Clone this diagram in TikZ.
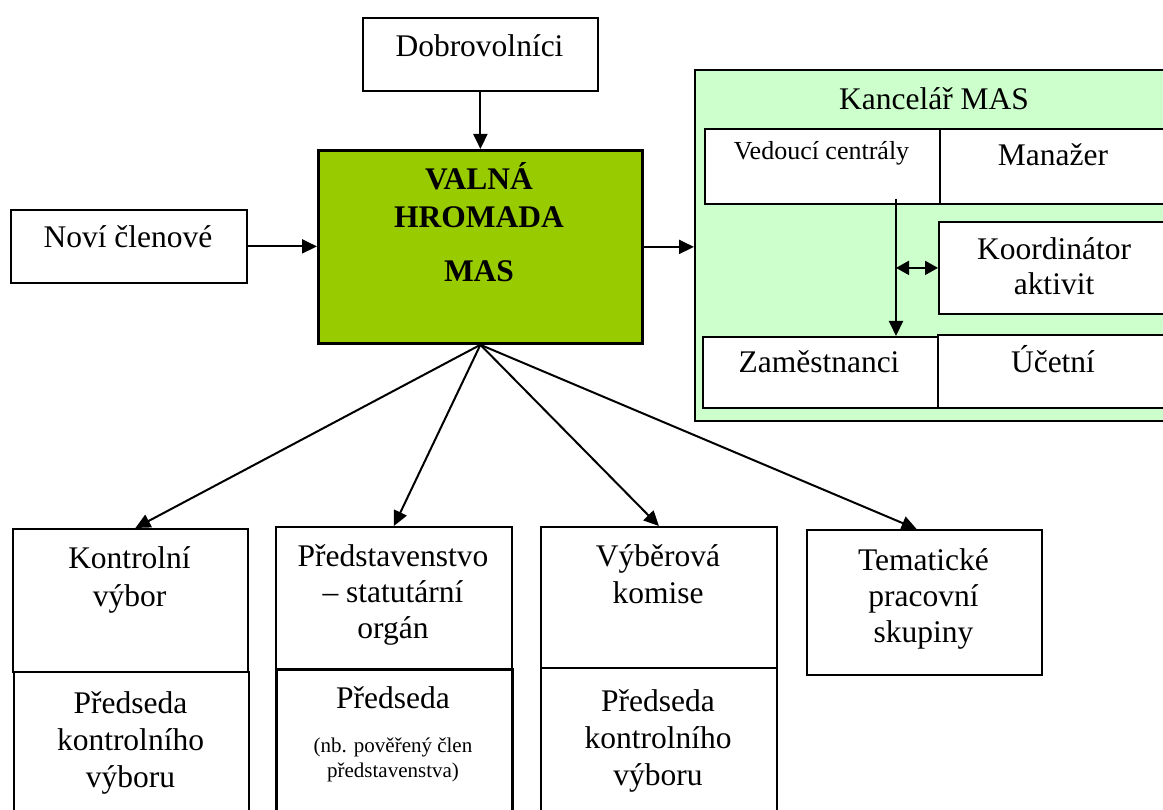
\documentclass[tikz,border=0pt]{standalone}
\usepackage{fontspec}
\setmainfont{Liberation Serif}
\usetikzlibrary{arrows.meta}
\definecolor{valna}{HTML}{99CC00}
\definecolor{kancelar}{HTML}{CCFFCC}

\begin{document}
\begin{tikzpicture}[x=1pt, y=-1pt]
    \tikzstyle{box}=[draw, line width=1.8pt, fill=white, anchor=north west, inner sep=0pt]
    \tikzstyle{txt}=[anchor=base, align=center, inner sep=0pt, font=\fontsize{31.5}{37}\selectfont]
    \tikzstyle{arr}=[line width=2pt, -{Triangle[length=15pt,width=14pt]}]
    \clip (0,0) rectangle (1163,810);
    \fill[white] (0,0) rectangle (1163,810);

    \node[box, minimum width=235pt, minimum height=73pt] (dobr) at (362,17) {};
    \node[txt] (dobrt) at (479.5,57) {Dobrovolníci};
    \node[box, minimum width=236pt, minimum height=73pt] (novi) at (10,209) {};
    \node[txt] (novit) at (128,248) {Noví členové};
    \node[box, fill=valna, line width=2.8pt, minimum width=324pt, minimum height=193pt] (vh) at (317,149) {};
    \node[txt, font=\fontsize{31.5}{38}\selectfont\bfseries] (vht) at (479,282) {VALNÁ\\HROMADA\\[16pt]MAS};

    \node[box, fill=kancelar, line width=2pt, minimum width=485pt, minimum height=351pt] (kanc) at (694,69) {};
    \node[txt] (kanct) at (934,110) {Kancelář MAS};
    \node[box, minimum width=235pt, minimum height=75pt] (ved) at (704,128) {};
    \node[txt, font=\fontsize{26}{30}\selectfont] (vedt) at (821.5,160) {Vedoucí centrály};
    \node[box, minimum width=228pt, minimum height=75pt] (man) at (939,128) {};
    \node[txt] (mant) at (1053,166) {Manažer};
    \node[box, minimum width=233pt, minimum height=92pt] (koo) at (938,221) {};
    \node[txt, font=\fontsize{31.5}{35}\selectfont] (koot) at (1054,295) {Koordinátor\\aktivit};
    \node[box, minimum width=235pt, minimum height=71pt] (zam) at (702,336) {};
    \node[txt] (zamt) at (819,373) {Zaměstnanci};
    \node[box, minimum width=232pt, minimum height=73pt] (uct) at (937,334) {};
    \node[txt] (uctt) at (1053,373) {Účetní};

    \node[box, minimum width=235pt, minimum height=160pt] (kvp) at (13,671) {};
    \node[txt] (kvpt) at (130.5,787) {Předseda\\kontrolního\\výboru};
    \node[box, minimum width=235pt, minimum height=143pt] (kv) at (12,528) {};
    \node[txt, font=\fontsize{31.5}{38}\selectfont] (kvt) at (129.5,606) {Kontrolní\\výbor};
    \node[box, line width=2.8pt, minimum width=236pt, minimum height=160pt] (prp) at (275,668) {};
    \node[txt] (prpt) at (393,708) {Předseda};
    \node[txt, font=\fontsize{21}{25}\selectfont] (prps) at (393,777) {(nb. pověřený člen\\představenstva)};
    \node[box, minimum width=236pt, minimum height=142pt] (pr) at (275,526) {};
    \node[txt, font=\fontsize{31.5}{36}\selectfont] (prt) at (393,638) {Představenstvo\\– statutární\\orgán};
    \node[box, minimum width=236pt, minimum height=160pt] (vkp) at (540,667) {};
    \node[txt] (vkpt) at (658,785) {Předseda\\kontrolního\\výboru};
    \node[box, minimum width=236pt, minimum height=141pt] (vk) at (540,526) {};
    \node[txt] (vkt) at (658,603) {Výběrová\\komise};
    \node[box, line width=2.2pt, minimum width=235pt, minimum height=145pt] (tem) at (806,529) {};
    \node[txt, font=\fontsize{31.5}{36}\selectfont] (temt) at (923.5,642) {Tematické\\pracovní\\skupiny};

    \draw[arr] (dobr.south) -- (dobr.south |- vh.north);
    \draw[arr] (novi.east) -- (novi.east -| vh.west);
    \draw[arr] (vh.east) -- (vh.east -| kanc.west);
    \draw[arr] (vh.south) -- ([xshift=5pt]kv.north);
    \draw[arr] (vh.south) -- (pr.north);
    \draw[arr] (vh.south) -- (vk.north);
    \draw[arr] (vh.south) -- ([xshift=-8pt]tem.north);

    \coordinate (vc) at (896,199);
    \draw[arr] (vc) -- (vc |- zam.north);
    \draw[line width=2pt, {Triangle[length=13pt,width=14pt]}-{Triangle[length=13pt,width=14pt]}] (vc |- koo.west) -- (koo.west);
\end{tikzpicture}
\end{document}
